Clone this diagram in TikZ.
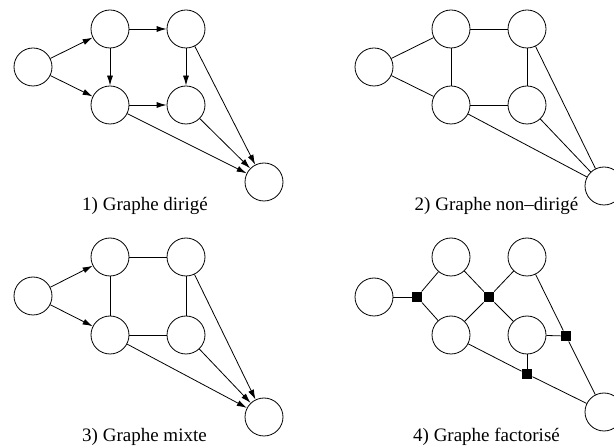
\documentclass[tikz,border=0pt]{standalone}
\usepackage{fontspec}
\setmainfont{Liberation Serif}
\usetikzlibrary{arrows.meta}

\begin{document}
\begin{tikzpicture}[x=1pt,y=-1pt,
  var/.style={circle,draw,line width=0.8pt,minimum size=38pt,inner sep=0pt},
  factor/.style={rectangle,fill=black,minimum size=10.5pt,inner sep=0pt},
  edge/.style={line width=0.8pt},
  arc/.style={edge,-{Latex[length=10pt,width=6pt]}},
  caption/.style={anchor=base,inner sep=0pt,font=\fontsize{19}{22}\selectfont}]
  \useasboundingbox (0,0) rectangle (614,446);
  \clip (0,0) rectangle (614,446);

  % 1) directed graph
  \node[var] (a1) at (33,67) {};
  \node[var] (b1) at (110,29) {};
  \node[var] (c1) at (186,29) {};
  \node[var] (d1) at (110,105) {};
  \node[var] (e1) at (186,105) {};
  \node[var] (f1) at (264,182) {};
  \draw[arc] (a1) -- (b1);
  \draw[arc] (a1) -- (d1);
  \draw[arc] (b1) -- (c1);
  \draw[arc] (b1) -- (d1);
  \draw[arc] (c1) -- (e1);
  \draw[arc] (d1) -- (e1);
  \draw[arc] (c1) -- (f1);
  \draw[arc] (d1) -- (f1);
  \draw[arc] (e1) -- (f1);
  \node[caption] (t1) at (145,211) {1) Graphe dirigé};

  % 2) undirected graph
  \node[var] (a2) at (374,67) {};
  \node[var] (b2) at (451,29) {};
  \node[var] (c2) at (527,29) {};
  \node[var] (d2) at (451,105) {};
  \node[var] (e2) at (527,105) {};
  \node[var] (f2) at (604,186) {};
  \draw[edge] (a2) -- (b2);
  \draw[edge] (a2) -- (d2);
  \draw[edge] (b2) -- (c2);
  \draw[edge] (b2) -- (d2);
  \draw[edge] (c2) -- (e2);
  \draw[edge] (d2) -- (e2);
  \draw[edge] (c2) -- (f2);
  \draw[edge] (d2) -- (f2);
  \draw[edge] (e2) -- (f2);
  \node[caption] (t2) at (496.5,211) {2) Graphe non--dirigé};

  % 3) mixed graph
  \node[var] (a3) at (33,296) {};
  \node[var] (b3) at (110,257) {};
  \node[var] (c3) at (186,257) {};
  \node[var] (d3) at (110,335) {};
  \node[var] (e3) at (186,335) {};
  \node[var] (f3) at (264,417) {};
  \draw[arc] (a3) -- (b3);
  \draw[arc] (a3) -- (d3);
  \draw[edge] (b3) -- (c3);
  \draw[edge] (b3) -- (d3);
  \draw[edge] (c3) -- (e3);
  \draw[edge] (d3) -- (e3);
  \draw[arc] (c3) -- (f3);
  \draw[arc] (d3) -- (f3);
  \draw[arc] (e3) -- (f3);
  \node[caption] (t3) at (144.5,442) {3) Graphe mixte};

  % 4) factor graph
  \node[var] (a4) at (374,297) {};
  \node[var] (b4) at (451,257) {};
  \node[var] (c4) at (527,257) {};
  \node[var] (d4) at (451,335) {};
  \node[var] (e4) at (527,335) {};
  \node[var] (f4) at (604,412) {};
  \node[factor] (g1) at (417,297) {};
  \node[factor] (g2) at (489,297) {};
  \node[factor] (g3) at (566,336) {};
  \node[factor] (g4) at (527,374) {};
  \draw[edge] (a4) -- (g1);
  \draw[edge] (g1) -- (b4);
  \draw[edge] (g1) -- (d4);
  \draw[edge] (b4) -- (g2);
  \draw[edge] (d4) -- (g2);
  \draw[edge] (c4) -- (g2);
  \draw[edge] (g2) -- (e4);
  \draw[edge] (e4) -- (g3);
  \draw[edge] (c4) -- (g3);
  \draw[edge] (g3) -- (f4);
  \draw[edge] (d4) -- (g4);
  \draw[edge] (e4) -- (g4);
  \draw[edge] (g4) -- (f4);
  \node[caption] (t4) at (486.5,442) {4) Graphe factorisé};
\end{tikzpicture}
\end{document}
